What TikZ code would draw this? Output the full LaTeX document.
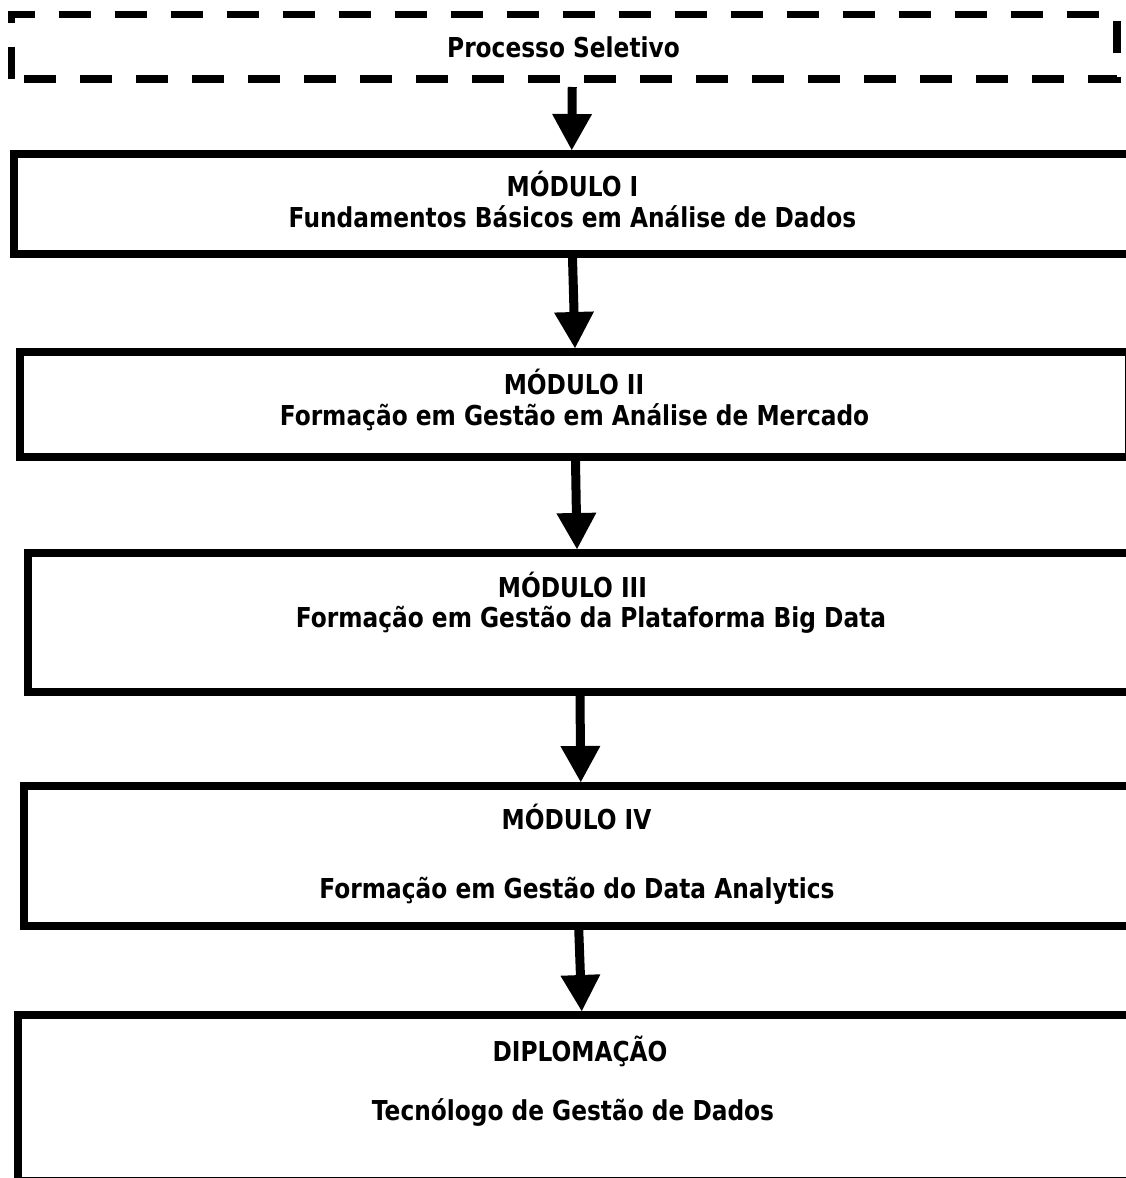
\documentclass[tikz,border=0pt]{standalone}
\usepackage{fontspec}
\setmainfont{DejaVu Sans}[FakeStretch=0.85]
\usetikzlibrary{arrows.meta}

\begin{document}
\begin{tikzpicture}[
    x = 1pt, y = -1pt, % one unit per pixel, y going down
    > = {Triangle[width = 40pt, length = 36pt, line width = 0pt]}, % arrow head style
    every node/.style = {font = \bfseries\fontsize{27.4}{33}\selectfont}
]
\useasboundingbox (0,0) rectangle (1126,1178);

\tikzstyle{modulo}=[
    rectangle,
    draw = black,
    line width = 8pt,
    inner sep = 0pt
]
\tikzstyle{selecao}=[
    line width = 7.3pt,
    dash pattern = on 32pt off 24pt
]
\tikzstyle{rotulo}=[anchor = base, inner sep = 0pt]
\tikzstyle{passo}=[->, line width = 9pt]

% boxes
\node[rectangle, inner sep = 0pt, outer sep = 0pt, minimum width = 1105.5pt, minimum height = 64.5pt] (Processo Seletivo) at (564.25, 46.75) {};
\draw[selecao] (Processo Seletivo.south west) -- (Processo Seletivo.north west) -- (Processo Seletivo.north east) -- (Processo Seletivo.south east) -- cycle;
\node[modulo, minimum width = 1115.5pt, minimum height = 100pt] (Modulo I) at (571.75, 204) {};
\node[modulo, minimum width = 1109pt, minimum height = 105pt] (Modulo II) at (574.5, 404.5) {};
\node[modulo, minimum width = 1107pt, minimum height = 139pt] (Modulo III) at (581.5, 622.5) {};
\node[modulo, minimum width = 1105.5pt, minimum height = 140pt] (Modulo IV) at (576.75, 856) {};
\node[modulo, minimum width = 1111.5pt, minimum height = 166pt] (Diplomacao) at (573.75, 1098) {};

% texts
\node[rotulo] (Selecao Texto) at (563.5, 57) {Processo Seletivo};
\node[rotulo] (Modulo I Titulo) at (572.5, 196) {MÓDULO I};
\node[rotulo] (Modulo I Texto) at (572.5, 227) {Fundamentos Básicos em Análise de Dados};
\node[rotulo] (Modulo II Titulo) at (574, 394) {MÓDULO II};
\node[rotulo] (Modulo II Texto) at (574.5, 425) {Formação em Gestão em Análise de Mercado};
\node[rotulo] (Modulo III Titulo) at (572.5, 597) {MÓDULO III};
\node[rotulo] (Modulo III Texto) at (591, 627) {Formação em Gestão da Plataforma Big Data};
\node[rotulo] (Modulo IV Titulo) at (576.5, 829) {MÓDULO IV};
\node[rotulo] (Modulo IV Texto) at (577, 898) {Formação em Gestão do Data Analytics};
\node[rotulo] (Diplomacao Titulo) at (580, 1061) {DIPLOMAÇÃO};
\node[rotulo] (Diplomacao Texto) at (573, 1120) {Tecnólogo de Gestão de Dados};

% arrows
\draw[passo] ([xshift = 8pt, yshift = -8pt]Processo Seletivo.south) -- (Modulo I.north);
\draw[passo] ([xshift = 0.75pt]Modulo I.south) -- ([xshift = 0.5pt]Modulo II.north);
\draw[passo] ([xshift = 1pt]Modulo II.south) -- ([xshift = -4.5pt]Modulo III.north);
\draw[passo] ([xshift = -1.5pt]Modulo III.south) -- ([xshift = 4pt]Modulo IV.north);
\draw[passo] ([xshift = 2pt]Modulo IV.south) -- ([xshift = 8pt]Diplomacao.north);

%\draw[red, dashed] (572, 0) -- (572, 1178);
\end{tikzpicture}
\end{document}
